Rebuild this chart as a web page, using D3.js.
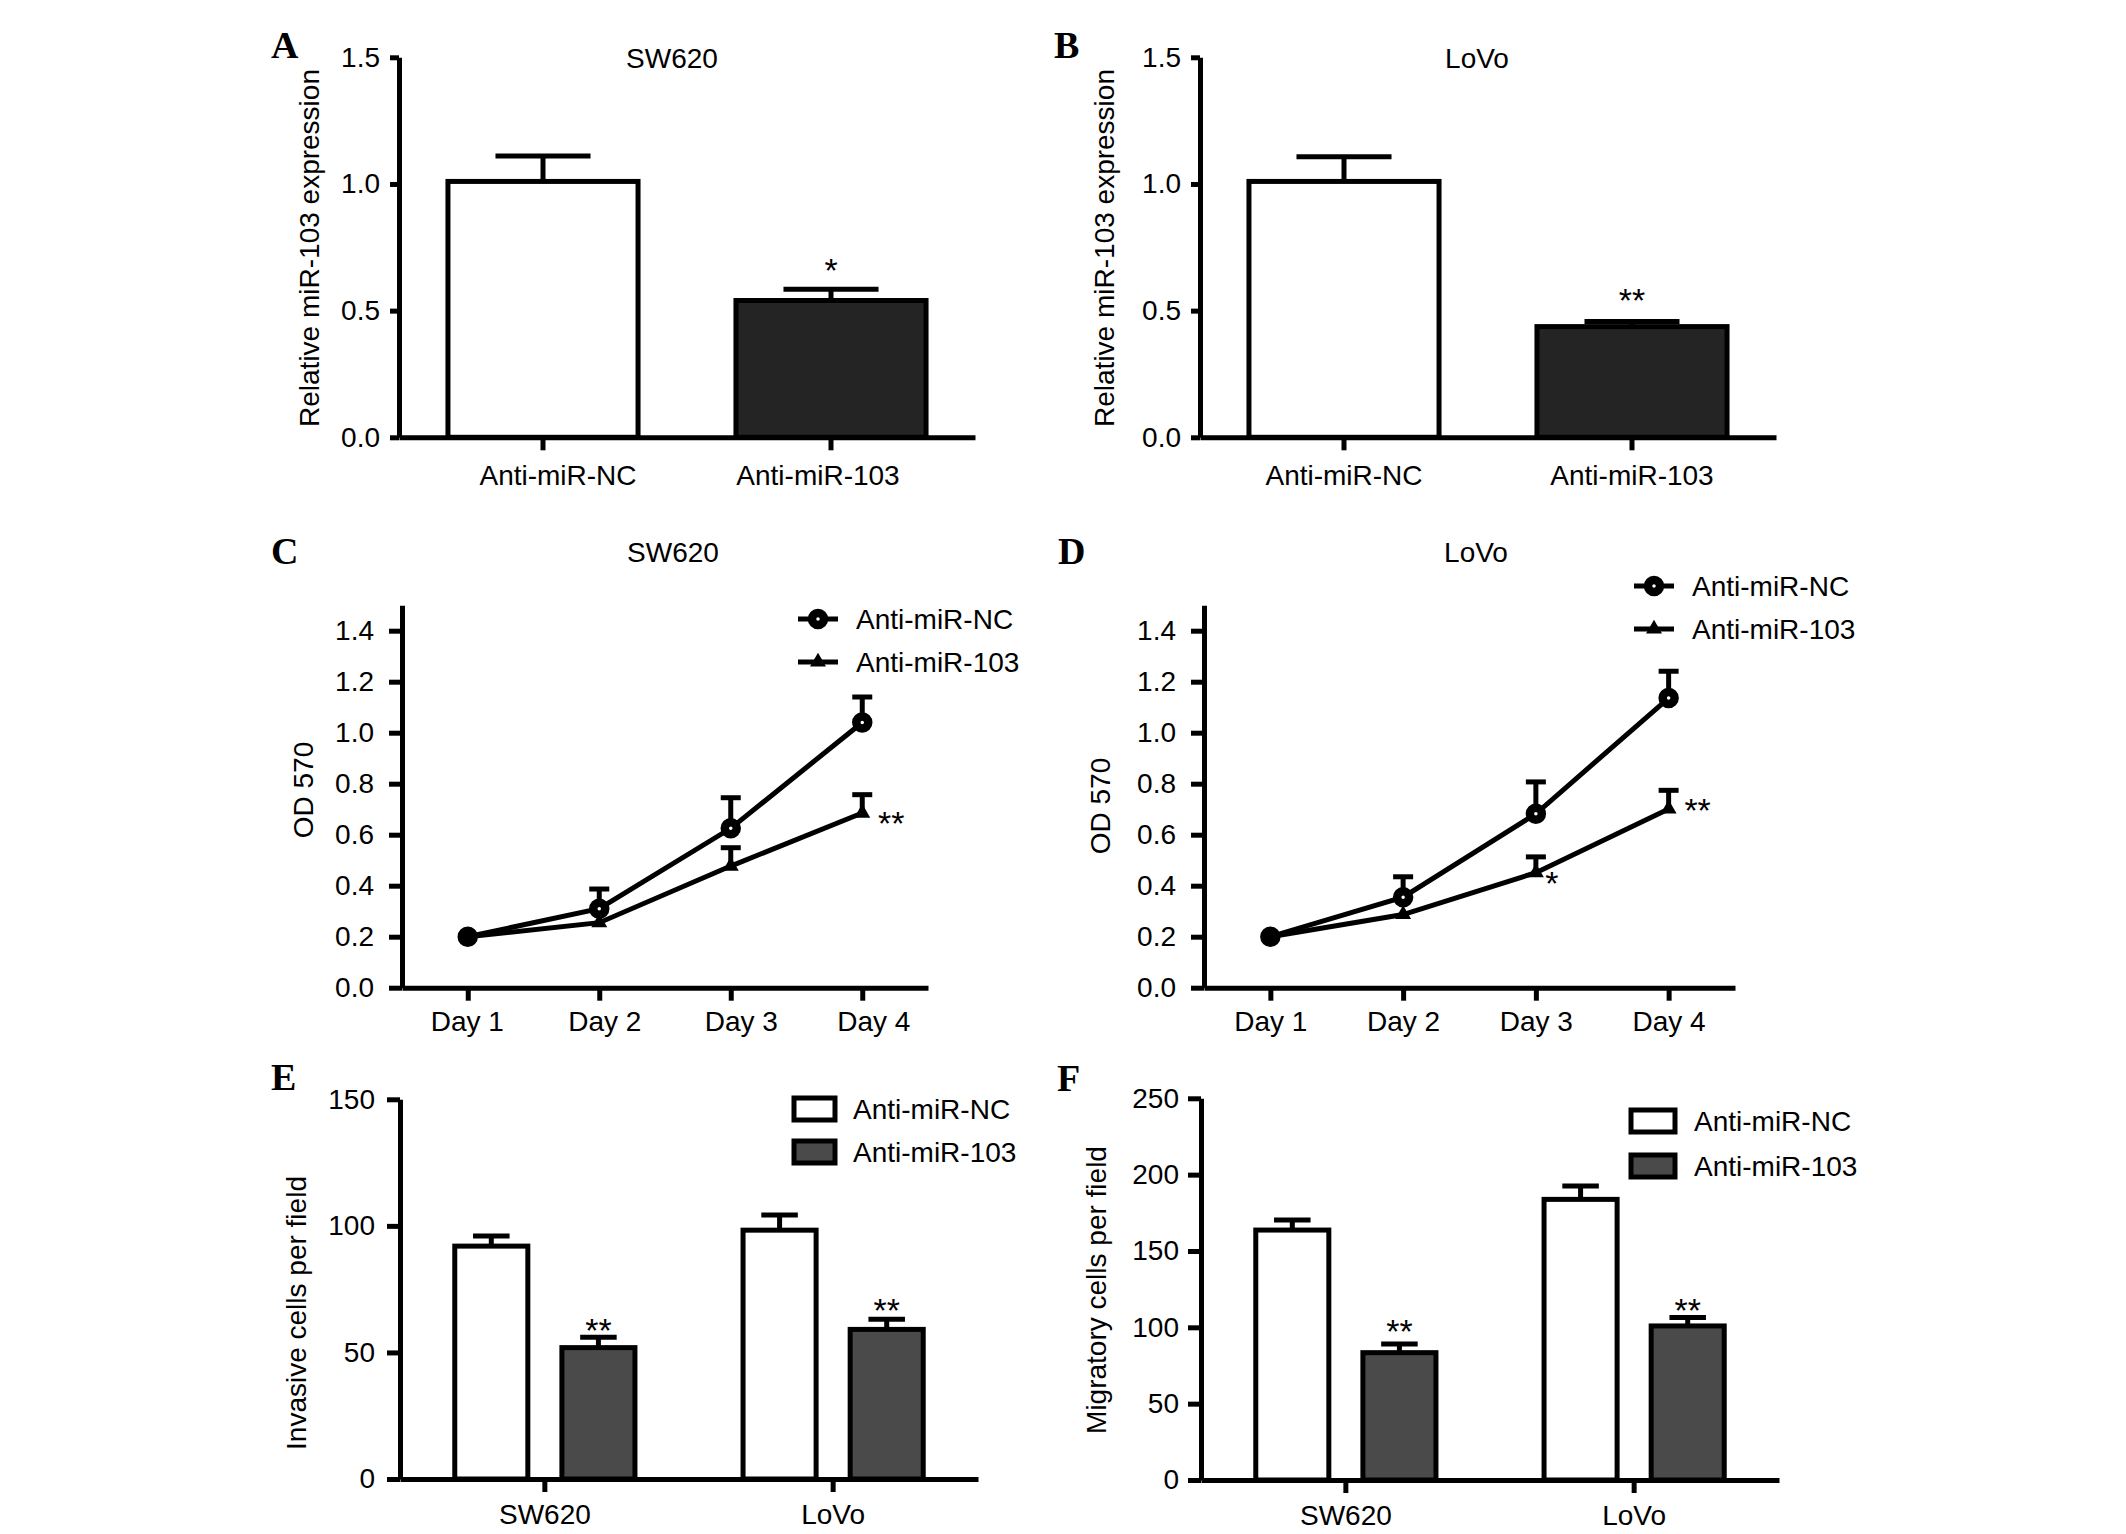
<!DOCTYPE html>
<html>
<head>
<meta charset="utf-8">
<script src="https://cdn.jsdelivr.net/npm/d3@7"></script>
<style>
  body { margin: 0; background: #fff; }
</style>
</head>
<body>
<div id="figure"></div>
<script>
// ---- data ----
const groups = ["Anti-miR-NC", "Anti-miR-103"];
const cellLines = ["SW620", "LoVo"];
const days = ["Day 1", "Day 2", "Day 3", "Day 4"];

// A / B: relative miR-103 expression
const exprSW620 = [1.01, 0.54];
const exprSW620Err = [0.10, 0.044];
const exprSW620Sig = ["", "*"];
const exprLoVo = [1.01, 0.437];
const exprLoVoErr = [0.097, 0.02];
const exprLoVoSig = ["", "**"];
const exprTicks = [0, 0.5, 1.0, 1.5];

// C / D: OD 570 growth curves
const odSW620NC = [0.20, 0.31, 0.625, 1.04];
const odSW620NCErr = [0, 0.077, 0.12, 0.10];
const odSW620103 = [0.20, 0.255, 0.477, 0.685];
const odSW620103Err = [0, 0, 0.072, 0.072];
const odSW620Sig = ["", "", "", "**"];
const odLoVoNC = [0.20, 0.355, 0.682, 1.136];
const odLoVoNCErr = [0, 0.08, 0.125, 0.105];
const odLoVo103 = [0.20, 0.287, 0.451, 0.701];
const odLoVo103Err = [0, 0, 0.062, 0.073];
const odLoVoSig = ["", "", "*", "**"];
const odTicks = [0, 0.2, 0.4, 0.6, 0.8, 1.0, 1.2, 1.4];

// E: invasive cells, F: migratory cells
const invasionNC = [92.0, 98.3];
const invasionNCErr = [4.0, 6.0];
const invasion103 = [51.9, 59.1];
const invasion103Err = [4.1, 4.0];
const invasionTicks = [0, 50, 100, 150];
const migrationNC = [163.7, 183.8];
const migrationNCErr = [6.6, 8.7];
const migration103 = [83.4, 100.9];
const migration103Err = [5.7, 5.6];
const migrationTicks = [0, 50, 100, 150, 200, 250];
const groupSig = ["", "**"];

// ---- drawing ----
const FONT = '"Liberation Sans", Arial, Helvetica, sans-serif';
const SERIF = '"Liberation Serif", "Times New Roman", serif';
const W = 2126, H = 1534;

const svg = d3.select("#figure").append("svg")
    .attr("width", W)
    .attr("height", H);

svg.append("rect").attr("width", W).attr("height", H).attr("fill", "#fff");

const styleAxis = (g) => {
    g.select(".domain").attr("stroke", "#000").attr("stroke-width", 5);
    g.selectAll(".tick line").attr("stroke", "#000").attr("stroke-width", 5);
    g.selectAll(".tick text")
        .attr("font-size", 28)
        .attr("font-family", FONT)
        .attr("fill", "#000");
};

const addText = (x, y, str, size, anchor) => svg.append("text")
    .attr("x", x)
    .attr("y", y)
    .attr("font-family", FONT)
    .attr("font-size", size)
    .attr("text-anchor", anchor || "middle")
    .attr("fill", "#000")
    .text(str);

const addYLabel = (x, y, str) => svg.append("text")
    .attr("transform", `translate(${x}, ${y}) rotate(-90)`)
    .attr("dy", "0.35em")
    .attr("font-family", FONT)
    .attr("font-size", 28)
    .attr("text-anchor", "middle")
    .attr("fill", "#000")
    .text(str);

const addLetter = (x, y, letter) => svg.append("text")
    .attr("x", x)
    .attr("y", y)
    .attr("font-family", SERIF)
    .attr("font-weight", "bold")
    .attr("font-size", 38)
    .attr("fill", "#000")
    .text(letter);

// y axis + x axis shared by all panels
const drawAxes = (p, x, y, ticks, fmt) => {
    const gy = svg.append("g")
        .attr("transform", `translate(${p.x0}, 0)`)
        .call(d3.axisLeft(y).tickValues(ticks).tickFormat(fmt)
            .tickSize(p.ySize).tickPadding(p.yPad).tickSizeOuter(0));
    styleAxis(gy);

    const gx = svg.append("g")
        .attr("transform", `translate(0, ${p.y0})`)
        .call(d3.axisBottom(x).tickSize(13).tickPadding(p.xPad).tickSizeOuter(0));
    styleAxis(gx);
    // the exported figure has some category labels nudged off their ticks
    if (p.labelDx) gx.selectAll(".tick text").attr("dx", (d, i) => p.labelDx[i]);
};

const drawErrorBar = (cx, yTop, yBase, half) => {
    svg.append("line")
        .attr("x1", cx).attr("x2", cx)
        .attr("y1", yBase).attr("y2", yTop)
        .attr("stroke", "#000").attr("stroke-width", 5);
    svg.append("line")
        .attr("x1", cx - half).attr("x2", cx + half)
        .attr("y1", yTop).attr("y2", yTop)
        .attr("stroke", "#000").attr("stroke-width", 5);
};

// Panels A and B: two bars
const drawSimpleBars = (p, values, errs, sig) => {
    const x = d3.scaleBand().domain(groups)
        .range([p.x0, p.x0 + p.w]).paddingInner(0.34).paddingOuter(0.17);
    const y = d3.scaleLinear().domain([0, 1.5]).range([p.y0, p.yTop]);
    const fills = ["#fff", "#242424"];

    groups.forEach((g, i) => {
        const cx = x(g) + x.bandwidth() / 2;
        drawErrorBar(cx, y(values[i] + errs[i]), y(values[i]), x.bandwidth() / 4);
        svg.append("rect")
            .attr("x", x(g))
            .attr("y", y(values[i]))
            .attr("width", x.bandwidth())
            .attr("height", y(0) - y(values[i]))
            .attr("fill", fills[i])
            .attr("stroke", "#000")
            .attr("stroke-width", 5);
        if (sig[i]) addText(cx, y(values[i] + errs[i]) + p.sigDy, sig[i], 34);
    });

    drawAxes(p, x, y, exprTicks, d3.format(".1f"));
    addText(p.x0 + p.titleDx, p.titleY, p.title, 28);
    addYLabel(p.labelX, p.labelY, "Relative miR-103 expression");
    addLetter(p.letterX, p.letterY, p.letter);
};

// Panels C and D: growth curves
const circleMark = (cx, cy) => svg.append("circle")
    .attr("cx", cx).attr("cy", cy).attr("r", 6)
    .attr("fill", "#fff").attr("stroke", "#000").attr("stroke-width", 8.5);

const triangleMark = (cx, cy) => svg.append("path")
    .attr("transform", `translate(${cx}, ${cy})`)
    .attr("d", d3.symbol(d3.symbolTriangle, 110)())
    .attr("fill", "#000");

const drawCurves = (p, nc, ncErr, tr, trErr, sig) => {
    const x = d3.scalePoint().domain(days).range([p.x0, p.x0 + p.w]).padding(0.5);
    const y = d3.scaleLinear().domain([0, 1.5]).range([p.y0, p.yTop]);
    const line = d3.line().x((d, i) => x(days[i])).y(d => y(d));

    [nc, tr].forEach(series => {
        svg.append("path")
            .attr("d", line(series))
            .attr("fill", "none")
            .attr("stroke", "#000")
            .attr("stroke-width", 5);
    });

    days.forEach((d, i) => {
        if (ncErr[i] > 0) drawErrorBar(x(d), y(nc[i] + ncErr[i]), y(nc[i]), 10);
        if (trErr[i] > 0) drawErrorBar(x(d), y(tr[i] + trErr[i]), y(tr[i]), 10);
    });
    days.forEach((d, i) => circleMark(x(d), y(nc[i])));
    days.forEach((d, i) => triangleMark(x(d), y(tr[i])));
    days.forEach((d, i) => {
        if (sig[i]) addText(x(d) + p.sigDx[i], y(tr[i]) + p.sigDy[i], sig[i], 34);
    });

    drawAxes(p, x, y, odTicks, d3.format(".1f"));

    // legend
    const lg = p.legend;
    [0, 1].forEach(k => {
        const ly = lg.y + k * lg.gap;
        svg.append("line")
            .attr("x1", lg.x - 20).attr("x2", lg.x + 20)
            .attr("y1", ly).attr("y2", ly)
            .attr("stroke", "#000").attr("stroke-width", 5);
        if (k === 0) circleMark(lg.x, ly); else triangleMark(lg.x, ly);
        addText(lg.x + 38, ly + 10, groups[k], 28, "start");
    });

    addText(p.x0 + p.titleDx, p.titleY, p.title, 28);
    addYLabel(p.labelX, p.labelY, "OD 570");
    addLetter(p.letterX, p.letterY, p.letter);
};

// Panels E and F: grouped bars
const drawGroupedBars = (p, nc, ncErr, tr, trErr, maxY, ticks, yLabel) => {
    const x0 = d3.scaleBand().domain(cellLines)
        .range([p.x0, p.x0 + 578]).paddingInner(0.375).paddingOuter(0.19);
    const x1 = d3.scaleBand().domain(groups)
        .range([0, x0.bandwidth()]).paddingInner(0.318).paddingOuter(0);
    const y = d3.scaleLinear().domain([0, maxY]).range([p.y0, p.yTop]);
    const fills = ["#fff", "#4a4a4a"];
    const series = [[nc, ncErr], [tr, trErr]];

    cellLines.forEach((c, i) => {
        groups.forEach((g, k) => {
            const v = series[k][0][i], e = series[k][1][i];
            const bx = x0(c) + x1(g);
            const cx = bx + x1.bandwidth() / 2;
            drawErrorBar(cx, y(v + e), y(v), x1.bandwidth() / 4);
            svg.append("rect")
                .attr("x", bx)
                .attr("y", y(v))
                .attr("width", x1.bandwidth())
                .attr("height", y(0) - y(v))
                .attr("fill", fills[k])
                .attr("stroke", "#000")
                .attr("stroke-width", 5);
            if (groupSig[k]) addText(cx, y(v + e) + p.sigDy[i], groupSig[k], 34);
        });
    });

    drawAxes(p, x0, y, ticks, d3.format("d"));

    const lg = p.legend;
    groups.forEach((g, k) => {
        const ly = lg.y + k * lg.gap;
        svg.append("rect")
            .attr("x", lg.x).attr("y", ly - 11)
            .attr("width", lg.w).attr("height", 22)
            .attr("fill", fills[k])
            .attr("stroke", "#000").attr("stroke-width", 5);
        addText(lg.textX, ly + 10, g, 28, "start");
    });

    addYLabel(p.labelX, p.labelY, yLabel);
    addLetter(p.letterX, p.letterY, p.letter);
};

drawSimpleBars({ x0: 399, w: 576, y0: 437.3, yTop: 57.3, ySize: 9, yPad: 10, xPad: 15,
    labelDx: [15, -13],
    title: "SW620", titleDx: 273, titleY: 68, labelX: 309, labelY: 248,
    letter: "A", letterX: 271, letterY: 58, sigDy: -7 },
    exprSW620, exprSW620Err, exprSW620Sig);

drawSimpleBars({ x0: 1200, w: 576, y0: 437.3, yTop: 57.3, ySize: 9, yPad: 10, xPad: 15,
    title: "LoVo", titleDx: 277, titleY: 68, labelX: 1104, labelY: 248,
    letter: "B", letterX: 1054, letterY: 58, sigDy: -10 },
    exprLoVo, exprLoVoErr, exprLoVoSig);

drawCurves({ x0: 402, w: 526, y0: 987.7, yTop: 605.2, ySize: 13, yPad: 15, xPad: 10,
    labelDx: [-1, 5, 10, 11],
    title: "SW620", titleDx: 271, titleY: 562, labelX: 303, labelY: 790,
    letter: "C", letterX: 271, letterY: 564,
    sigDx: [0, 0, 0, 29], sigDy: [0, 0, 0, 22],
    legend: { x: 818, y: 619, gap: 43 } },
    odSW620NC, odSW620NCErr, odSW620103, odSW620103Err, odSW620Sig);

drawCurves({ x0: 1204, w: 531, y0: 987.7, yTop: 605.2, ySize: 13, yPad: 15, xPad: 10,
    title: "LoVo", titleDx: 272, titleY: 562, labelX: 1100, labelY: 806,
    letter: "D", letterX: 1058, letterY: 564,
    sigDx: [0, 0, 16, 29], sigDy: [0, 0, 22, 13],
    legend: { x: 1654, y: 586, gap: 43 } },
    odLoVoNC, odLoVoNCErr, odLoVo103, odLoVo103Err, odLoVoSig);

drawGroupedBars({ x0: 400, y0: 1479, yTop: 1099.3, ySize: 13, yPad: 12, xPad: 12,
    labelX: 296, labelY: 1313, letter: "E", letterX: 271, letterY: 1090,
    sigDy: [5, 3],
    legend: { x: 794, w: 41, y: 1109, gap: 43, textX: 853 } },
    invasionNC, invasionNCErr, invasion103, invasion103Err, 150, invasionTicks,
    "Invasive cells per field");

drawGroupedBars({ x0: 1201, y0: 1480, yTop: 1098.3, ySize: 13, yPad: 9, xPad: 12,
    labelX: 1096, labelY: 1290, letter: "F", letterX: 1057, letterY: 1091,
    sigDy: [-1, 5],
    legend: { x: 1631, w: 44, y: 1121, gap: 45, textX: 1694 } },
    migrationNC, migrationNCErr, migration103, migration103Err, 250, migrationTicks,
    "Migratory cells per field");
</script>
</body>
</html>
